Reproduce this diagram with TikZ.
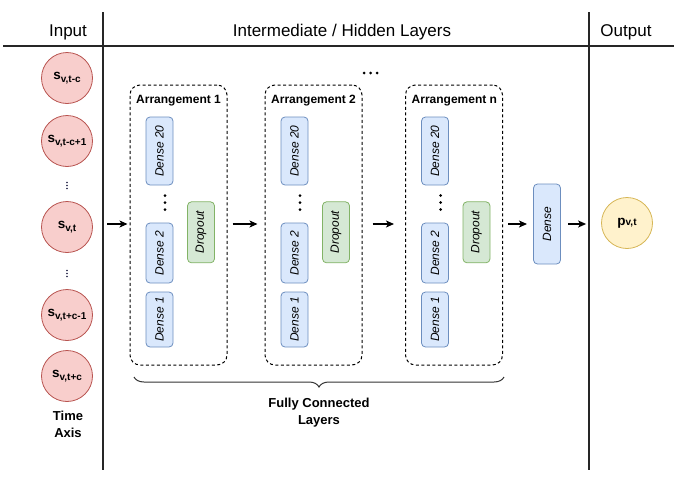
\documentclass[tikz,border=0pt]{standalone}
\usepackage{fontspec}
\setmainfont{Liberation Sans}
\usetikzlibrary{decorations.pathreplacing,arrows.meta}
\definecolor{redfill}{HTML}{F8CECC}
\definecolor{redline}{HTML}{B85450}
\definecolor{yelfill}{HTML}{FFF2CC}
\definecolor{yelline}{HTML}{D6B656}
\definecolor{bluefill}{HTML}{DAE8FC}
\definecolor{blueline}{HTML}{6C8EBF}
\definecolor{grnfill}{HTML}{D5E8D4}
\definecolor{grnline}{HTML}{82B366}
\definecolor{dotcol}{HTML}{1A1A40}
\tikzset{
  sep/.style={draw=black!85, line width=1.1pt},
  header/.style={font=\fontsize{17}{20}\selectfont},
  incirc/.style={circle, draw=redline, fill=redfill, line width=0.8pt, minimum size=51pt, inner sep=0pt},
  outcirc/.style={circle, draw=yelline, fill=yelfill, line width=0.8pt, minimum size=51pt, inner sep=0pt},
  densebox/.style={draw=blueline, fill=bluefill, line width=0.8pt, rounded corners=4pt, rotate=90, minimum height=27pt, inner sep=0pt, font=\fontsize{12}{14}\selectfont\itshape},
  dropbox/.style={draw=grnline, fill=grnfill, line width=0.8pt, rounded corners=4pt, rotate=90, minimum height=27pt, minimum width=61pt, inner sep=0pt, font=\fontsize{12}{14}\selectfont\itshape},
  arrbox/.style={draw=black, dashed, dash pattern=on 3pt off 2.5pt, line width=1pt, rounded corners=10pt, minimum width=97pt, minimum height=280pt, inner sep=0pt},
  arrlabel/.style={anchor=west, font=\bfseries\fontsize{12}{14}\selectfont, inner sep=0pt},
  conn/.style={-{Stealth[length=8pt,width=7pt,inset=2pt]}, line width=1.2pt, black},
  boldlab/.style={font=\bfseries\fontsize{13}{16.5}\selectfont, align=center},
  bigdot/.style={circle, fill=black, inner sep=0pt, minimum size=3pt},
  smalldot/.style={circle, fill=dotcol, inner sep=0pt, minimum size=1.8pt},
}
\newcommand{\svar}[1]{{\bfseries\fontsize{13.5}{14}\selectfont s\raisebox{-3.2pt}{\fontsize{10}{10}\selectfont #1}}}
\newcommand{\pvar}[1]{{\bfseries\fontsize{13.5}{14}\selectfont p\raisebox{-0pt}{\fontsize{10}{10}\selectfont #1}}}
\newcommand{\arrangement}[3]{%
  \node[arrbox] (#1) at ({#2+48.5},225) {};
  \node[arrlabel] (#1lab) at ({#2+6},101) {#3};
  \node[densebox, minimum width=68pt] (#1d20) at ({#2+29.5},151) {Dense 20};
  \node[bigdot] (#1da) at ({#2+35},195.5) {};
  \node[bigdot] (#1db) at ({#2+35},202.5) {};
  \node[bigdot] (#1dc) at ({#2+35},209.5) {};
  \node[densebox, minimum width=60pt] (#1d2) at ({#2+29.5},253) {Dense 2};
  \node[densebox, minimum width=55pt] (#1d1) at ({#2+29.5},319.5) {Dense 1};
  \node[dropbox] (#1drop) at ({#2+71},232.3) {Dropout};
}
\begin{document}
\begin{tikzpicture}[x=1pt,y=-1pt]
\useasboundingbox (0,0) rectangle (674,477);
% separators
\coordinate (hl) at (3,46);
\coordinate (hr) at (674,46);
\coordinate (v1t) at (103,12);
\coordinate (v1b) at (103,470);
\coordinate (v2t) at (589,12);
\coordinate (v2b) at (589,470);
\draw[sep] (hl) -- (hr);
\draw[sep] (v1t) -- (v1b);
\draw[sep] (v2t) -- (v2b);
% headers
\node[header] (hin) at (68,32) {Input};
\node[header] (hmid) at (342,32) {Intermediate / Hidden Layers};
\node[header] (hout) at (626,32) {Output};
% inputs
\node[incirc] (s1) at (67,78) {\svar{v,t-c}};
\node[incirc] (s2) at (67,141) {\svar{v,t-c+1}};
\node[smalldot] (d1a) at (67,182.5) {};
\node[smalldot] (d1b) at (67,185.5) {};
\node[smalldot] (d1c) at (67,188.5) {};
\node[incirc] (s3) at (67,227) {\svar{v,t}};
\node[smalldot] (d2a) at (67,270.5) {};
\node[smalldot] (d2b) at (67,273.5) {};
\node[smalldot] (d2c) at (67,276.5) {};
\node[incirc] (s4) at (67,315) {\svar{v,t+c-1}};
\node[incirc] (s5) at (67,376) {\svar{v,t+c}};
\node[boldlab] (time) at (68,424.5) {Time\\Axis};
% arrangements
\arrangement{A}{130}{Arrangement 1}
\arrangement{B}{265}{Arrangement 2}
\arrangement{C}{405.5}{Arrangement n}
% top dots
\node[bigdot] (ta) at (364,73) {};
\node[bigdot] (tb) at (370.5,73) {};
\node[bigdot] (tc) at (377,73) {};
% final dense and output
\node[densebox, minimum width=80pt] (fd) at (547,224) {Dense};
\node[outcirc] (out) at (627,223) {\pvar{v,t}};
% arrows
\coordinate (a0) at (107,224);
\draw[conn] (a0) -- ([xshift=-2pt]A.west |- a0);
\draw[conn] ([xshift=5pt]A.east |- a0) -- ([xshift=-7pt]B.west |- a0);
\draw[conn] ([xshift=10pt]B.east |- a0) -- ([xshift=-11pt]C.west |- a0);
\draw[conn] ([xshift=5pt]C.east |- a0) -- ([xshift=-20pt]fd.center);
\draw[conn] ([xshift=21pt]fd.center) -- ([xshift=-15pt]out.west |- a0);
% brace
\coordinate (bl) at (134,377);
\coordinate (br) at (504,377);
\draw[black!80, line width=1pt, decorate, decoration={brace, mirror, amplitude=10pt}] (bl) -- (br);
\node[boldlab] (fc) at (319,412.5) {Fully Connected\\Layers};
\end{tikzpicture}
\end{document}
